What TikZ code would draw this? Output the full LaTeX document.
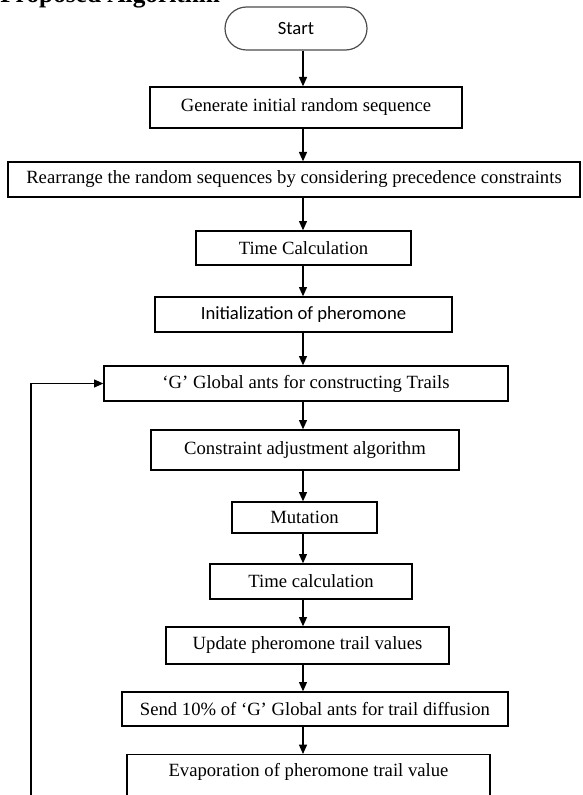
\documentclass[tikz,border=0pt]{standalone}
\usepackage{fontspec}
\setmainfont{Liberation Serif}
\newfontfamily\sansfont{Carlito}
\usetikzlibrary{arrows.meta,shapes.misc}
\newlength{\unitpx}
\setlength{\unitpx}{0.75pt}
\tikzset{
	stepbox/.style={draw,line width=1pt,inner sep=0pt,font=\fontsize{14}{16}\selectfont},
	terminal/.style={draw=black!70,line width=0.9pt,rounded rectangle,inner sep=0pt,font=\sansfont\fontsize{14}{16}\selectfont},
	arr/.style={line width=1pt,-{Triangle[length=7pt,width=6pt]}}
}

\begin{document}
\begin{tikzpicture}[x=0.75pt,y=-0.75pt]
		\path[use as bounding box,clip] (0,0) rectangle (582,795);
		
		\node[anchor=base west,inner sep=0pt,font=\bfseries\fontsize{19}{22}\selectfont] (title) at (0,3) {Proposed Algorithm};
		
		\node[terminal,minimum width=142\unitpx,minimum height=43\unitpx] (start) at (296,28.5) {Start};
		\node[stepbox,minimum width=312\unitpx,minimum height=41\unitpx] (gen) at (306,107.5) {Generate initial random sequence};
		\node[stepbox,minimum width=572\unitpx,minimum height=35\unitpx] (rear) at (294,179.5) {Rearrange the random sequences by considering precedence constraints};
		\node[stepbox,minimum width=215\unitpx,minimum height=34\unitpx] (time) at (303.5,248) {Time Calculation};
		\node[stepbox,minimum width=297\unitpx,minimum height=35\unitpx,font=\sansfont\fontsize{14}{16}\selectfont] (init) at (303.5,314.5) {Initialization of pheromone};
		\node[stepbox,minimum width=404\unitpx,minimum height=35\unitpx] (glob) at (306,383.5) {‘G’ Global ants for constructing Trails};
		\node[stepbox,minimum width=308\unitpx,minimum height=40\unitpx] (cons) at (305,450) {Constraint adjustment algorithm};
		\node[stepbox,minimum width=145\unitpx,minimum height=31\unitpx] (mut) at (304.5,517.5) {Mutation};
		\node[stepbox,minimum width=202\unitpx,minimum height=35\unitpx] (time2) at (311,581.5) {Time calculation};
		\node[stepbox,minimum width=283\unitpx,minimum height=37\unitpx] (upd) at (307.5,645.5) {Update pheromone trail values};
		\node[stepbox,minimum width=386\unitpx,minimum height=34\unitpx] (send) at (315,709) {Send 10\% of ‘G’ Global ants for trail diffusion};
		\node[stepbox,anchor=north,minimum width=363\unitpx,text height=22\unitpx,text depth=50\unitpx] (evap) at (308.5,754) {Evaporation of pheromone trail value};
		
		\coordinate (ax) at (303,0);
		\coordinate (loopin) at (31,810);
		
		\path[arr]
		(start.south -| ax)edge(gen.north -| ax)
		(gen.south -| ax)edge(rear.north -| ax)
		(rear.south -| ax)edge(time.north -| ax)
		(time.south -| ax)edge(init.north -| ax)
		(init.south -| ax)edge(glob.north -| ax)
		(glob.south -| ax)edge(cons.north -| ax)
		(cons.south -| ax)edge(mut.north -| ax)
		(mut.south -| ax)edge(time2.north -| ax)
		(time2.south -| ax)edge(upd.north -| ax)
		(upd.south -| ax)edge(send.north -| ax)
		(send.south -| ax)edge(evap.north -| ax);
		
		\draw[arr] (loopin) |- (glob.west);
		\end{tikzpicture}
\end{document}
